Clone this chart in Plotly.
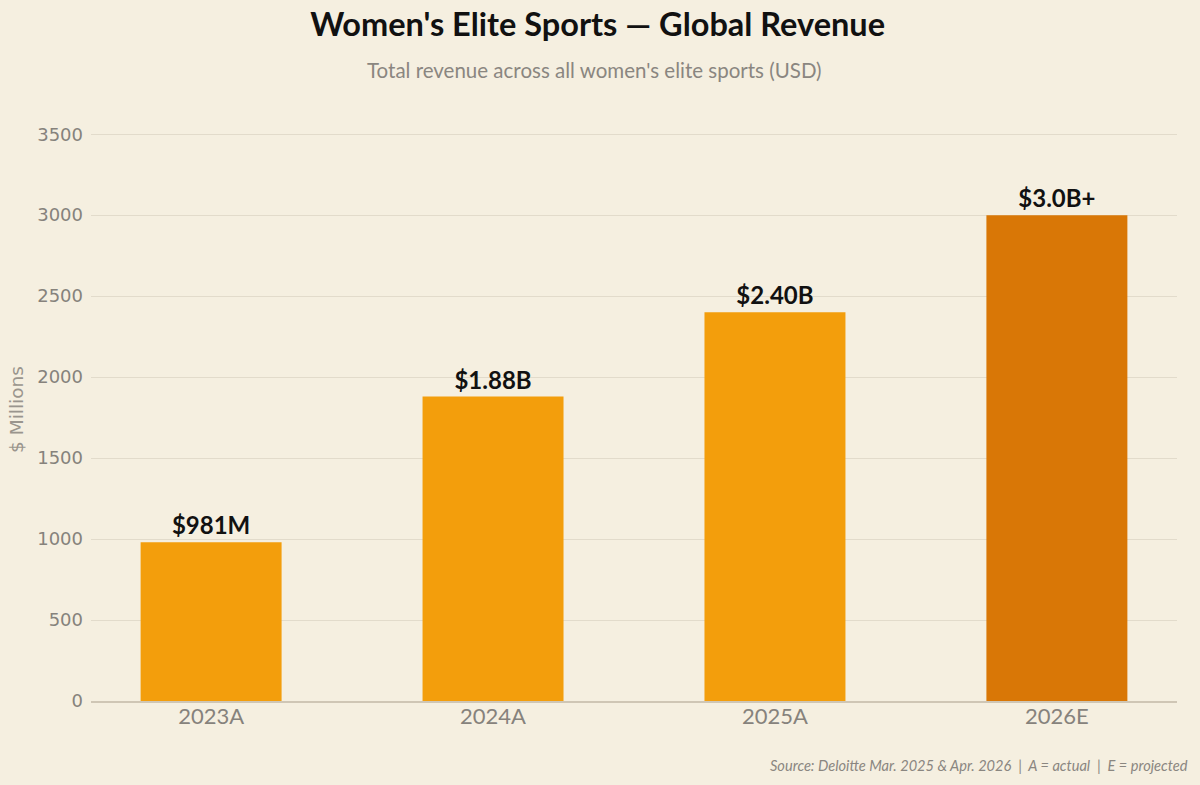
import plotly.graph_objects as go

# ----- Data -----
years = ["2023A", "2024A", "2025A", "2026E"]
revenue_musd = [981, 1880, 2400, 3000]
bar_labels = ["$981M", "$1.88B", "$2.40B", "$3.0B+"]
is_projected = [False, False, False, True]

ACTUAL = "#F39E0C"
PROJECTED = "#D97706"
BG = "#F5EFE0"

# ----- Figure -----
fig = go.Figure()
fig.add_trace(
    go.Bar(
        x=years,
        y=revenue_musd,
        width=0.5,
        marker=dict(color=[PROJECTED if p else ACTUAL for p in is_projected], line_width=0),
        text=bar_labels,
        textposition="outside",
        cliponaxis=False,
        textfont=dict(family="Lato", size=24, color="#111111", weight="bold"),
        hoverinfo="skip",
    )
)

# ----- Layout -----
fig.update_layout(
    width=1200,
    height=785,
    paper_bgcolor=BG,
    plot_bgcolor=BG,
    margin=dict(l=91, r=23, t=118, b=84),
    showlegend=False,
    title=dict(
        text="<b>Women's Elite Sports — Global Revenue</b>",
        x=0.498,
        xanchor="center",
        y=0.968,
        yanchor="middle",
        font=dict(family="Lato", size=32.5, color="#111111"),
    ),
    annotations=[
        dict(
            text="Total revenue across all women's elite sports (USD)",
            xref="paper", yref="paper",
            x=0.464, y=1.0, yshift=48,
            xanchor="center", yanchor="middle",
            showarrow=False,
            font=dict(family="Lato", size=20.5, color="#8A8680"),
        ),
        dict(
            text="<i>Source: Deloitte Mar. 2025 &amp; Apr. 2026  |  A = actual  |  E = projected</i>",
            xref="paper", yref="paper",
            x=1.0, y=0, xshift=13, yshift=-64,
            xanchor="right", yanchor="middle",
            showarrow=False,
            font=dict(family="Lato", size=14.6, color="#8A8680"),
        ),
    ],
)
fig.update_xaxes(
    range=[-0.426, 3.426],
    showgrid=False,
    showline=True,
    linecolor="#CFC6B5",
    linewidth=2,
    ticks="",
    ticklabelstandoff=-5,
    tickfont=dict(family="Lato", size=22, color="#86827C"),
)
fig.update_yaxes(
    range=[0, 3600],
    tickvals=[0, 500, 1000, 1500, 2000, 2500, 3000, 3500],
    gridcolor="#E2DBCB",
    gridwidth=1,
    zeroline=False,
    showline=False,
    ticks="",
    ticklen=0,
    ticklabelstandoff=7,
    tickfont=dict(family="DejaVu Sans", size=18, color="#86827C"),
    title=dict(text="$ Millions", font=dict(family="DejaVu Sans", size=18.5, color="#9A958D"), standoff=8),
)

fig.write_html(
    "out.html",
    config={"displayModeBar": False},
    post_script="document.body.style.margin='0';",
)
